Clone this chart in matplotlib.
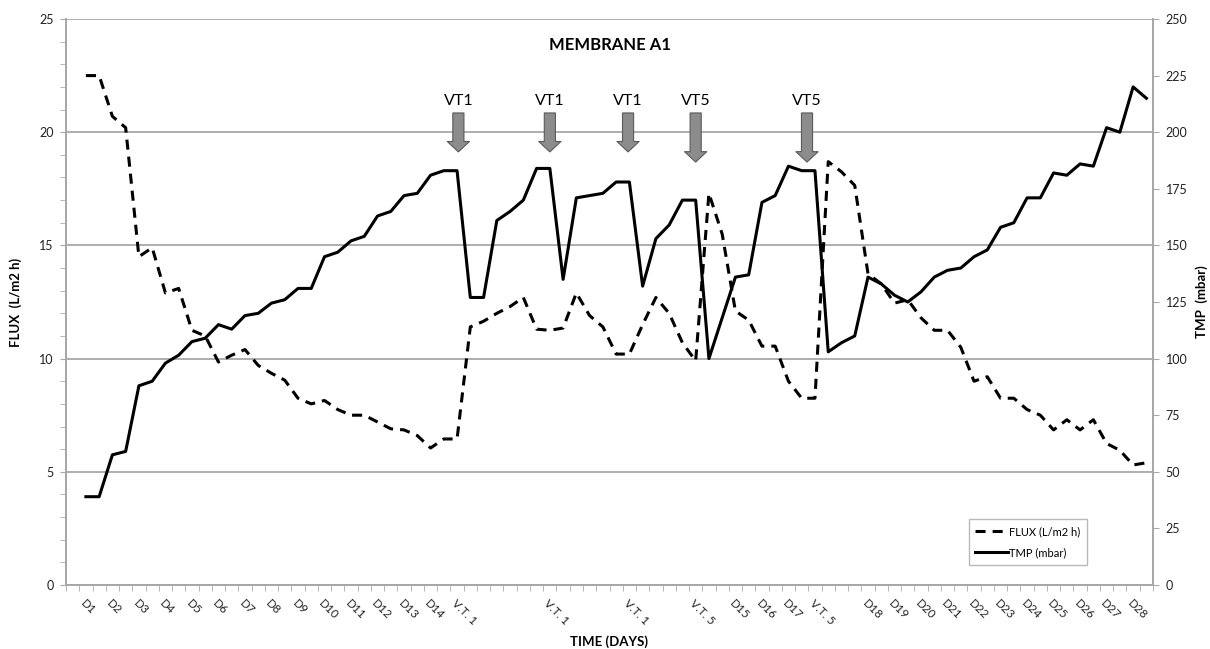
import numpy as np
import matplotlib
matplotlib.use('Agg')
import matplotlib.pyplot as plt
from matplotlib.ticker import MultipleLocator

# font like the Excel original
plt.rcParams['font.family'] = ['Lato', 'DejaVu Sans']

# x categories (two readings per day, only some labelled)
categories = ['',
              'D1', '', 'D2', '', 'D3', '', 'D4', '', 'D5', '', 'D6', '', 'D7', '',
              'D8', '', 'D9', '', 'D10', '', 'D11', '', 'D12', '', 'D13', '', 'D14', '',
              'V.T. 1', '', '', '', '', '', '', 'V.T. 1', '', '', '', '', '',
              'V.T. 1', '', '', '', '', 'V.T. 5', '', '', 'D15', '', 'D16', '', 'D17', '',
              'V.T. 5', '', '', '', 'D18', '', 'D19', '', 'D20', '', 'D21', '', 'D22', '',
              'D23', '', 'D24', '', 'D25', '', 'D26', '', 'D27', '', 'D28', '']

# FLUX (L/m2 h), left axis
flux = [22.5, 22.5, 20.7, 20.2, 14.5, 14.9, 12.9, 13.1, 11.25, 11.0,
        9.85, 10.15, 10.4, 9.7, 9.35, 9.05, 8.25, 8.0, 8.15, 7.75,
        7.5, 7.5, 7.2, 6.9, 6.85, 6.6, 6.05, 6.45, 6.45, 11.4,
        11.65, 12.0, 12.3, 12.7, 11.3, 11.25, 11.35, 12.9, 11.9, 11.4,
        10.2, 10.2, 11.5, 12.7, 12.0, 10.7, 9.9, 17.3, 15.5, 12.1,
        11.7, 10.55, 10.55, 9.0, 8.25, 8.25, 18.7, 18.25, 17.65, 13.75,
        13.3, 12.45, 12.6, 11.8, 11.25, 11.25, 10.5, 9.0, 9.2, 8.25,
        8.25, 7.75, 7.5, 6.85, 7.3, 6.85, 7.3, 6.25, 5.95, 5.3, 5.4]

# TMP (mbar), right axis
tmp = [39, 39, 57.5, 59, 88, 90, 98, 101.5, 107.5, 109,
       115, 113, 119, 120, 124.5, 126, 131, 131, 145, 147,
       152, 154, 163, 165, 172, 173, 181, 183, 183, 127,
       127, 161, 165, 170, 184, 184, 135, 171, 172, 173,
       178, 178, 132, 153, 159, 170, 170, 100, 118, 136,
       137, 169, 172, 185, 183, 183, 103, 107, 110, 136,
       133, 128, 125, 129.5, 136, 139, 140, 145, 148, 158,
       160, 171, 171, 182, 181, 186, 185, 202, 200, 220, 215]

# cleaning arrows
vt_labels = ['VT1', 'VT1', 'VT1', 'VT5', 'VT5']
vt_x = [29.1, 36.0, 41.9, 47.0, 55.4]
vt_tip = [19.13, 19.13, 19.13, 18.68, 18.68]

x = np.arange(1, len(flux) + 1)

fig = plt.figure(figsize=(12.1, 6.49), dpi=100)
ax = fig.add_axes([66 / 1210, 1 - 585 / 649, 1087 / 1210, 566 / 649])
ax2 = ax.twinx()

grid_col = '#a8a8a8'
ax.set_ylim(0, 25)
ax.set_xlim(-0.5, len(categories) - 0.5)
ax.set_yticks(np.arange(0, 26, 5))
ax.yaxis.set_minor_locator(MultipleLocator(1))
for v in range(5, 26, 5):
    ax.axhline(v, color=grid_col, lw=1.3, zorder=0)

ax2.set_ylim(0, 250)
ax2.set_yticks(np.arange(0, 251, 25))

l1, = ax.plot(x, flux, color='black', lw=2.2, dashes=(3.3, 2.3),
              label='FLUX (L/m2 h)', zorder=3)
l2, = ax2.plot(x, tmp, color='black', lw=2.2, label='TMP (mbar)', zorder=3)

# x ticks: labels at categories, small marks at the category edges
ax.set_xticks(np.arange(len(categories)))
ax.set_xticklabels(categories, rotation=-45, ha='left', va='top',
                   rotation_mode='anchor', fontsize=8.5, color='#222222')
ax.tick_params(axis='x', which='major', length=0, pad=9)
ax.set_xticks(np.arange(-0.5, len(categories), 1), minor=True)
ax.tick_params(axis='x', which='minor', length=4, color=grid_col, direction='out')
ax.tick_params(axis='y', which='major', length=4, color=grid_col,
               labelsize=9, labelcolor='#222222', pad=5)
ax.tick_params(axis='y', which='minor', length=4, color=grid_col)
ax2.tick_params(axis='y', length=4, color=grid_col, labelsize=9,
                labelcolor='#222222', pad=5)

for a in (ax, ax2):
    a.spines['top'].set_visible(False)
    for s in ('left', 'right', 'bottom'):
        a.spines[s].set_color(grid_col)
        a.spines[s].set_linewidth(1.3)

ax.set_ylabel('FLUX  (L/m2 h)', fontsize=9.5, fontweight='bold', labelpad=12)
ax2.set_ylabel('TMP  (mbar)', fontsize=9.5, fontweight='bold', labelpad=6)
ax.set_xlabel('TIME (DAYS)', fontsize=9.5, fontweight='bold', labelpad=6)

ax.text(0.5, 0.954, 'MEMBRANE A1', transform=ax.transAxes, ha='center',
        va='center', fontsize=12, fontweight='bold')

# gray block arrows with labels
for lab, xv, tip in zip(vt_labels, vt_x, vt_tip):
    ax2.annotate('', xy=(xv, tip * 10), xytext=(xv, 208.5),
                 arrowprops=dict(arrowstyle='simple,head_width=1.6,head_length=0.75,tail_width=0.8',
                                 fc='#8c8c8c', ec='#5a5a5a', lw=0.8,
                                 shrinkA=0, shrinkB=0, mutation_scale=10),
                 zorder=4)
    ax2.text(xv, 214, lab, ha='center', va='center', fontsize=11.5)

leg = ax2.legend(handles=[l1, l2], loc='lower right',
                 bbox_to_anchor=(0.944, 0.026), fontsize=8, frameon=True,
                 fancybox=False, handlelength=2.9, handletextpad=0.1,
                 borderpad=0.6, labelspacing=0.9)
leg.get_frame().set_edgecolor(grid_col)
leg.get_frame().set_linewidth(1.0)

fig.savefig('out.png', dpi=100)
